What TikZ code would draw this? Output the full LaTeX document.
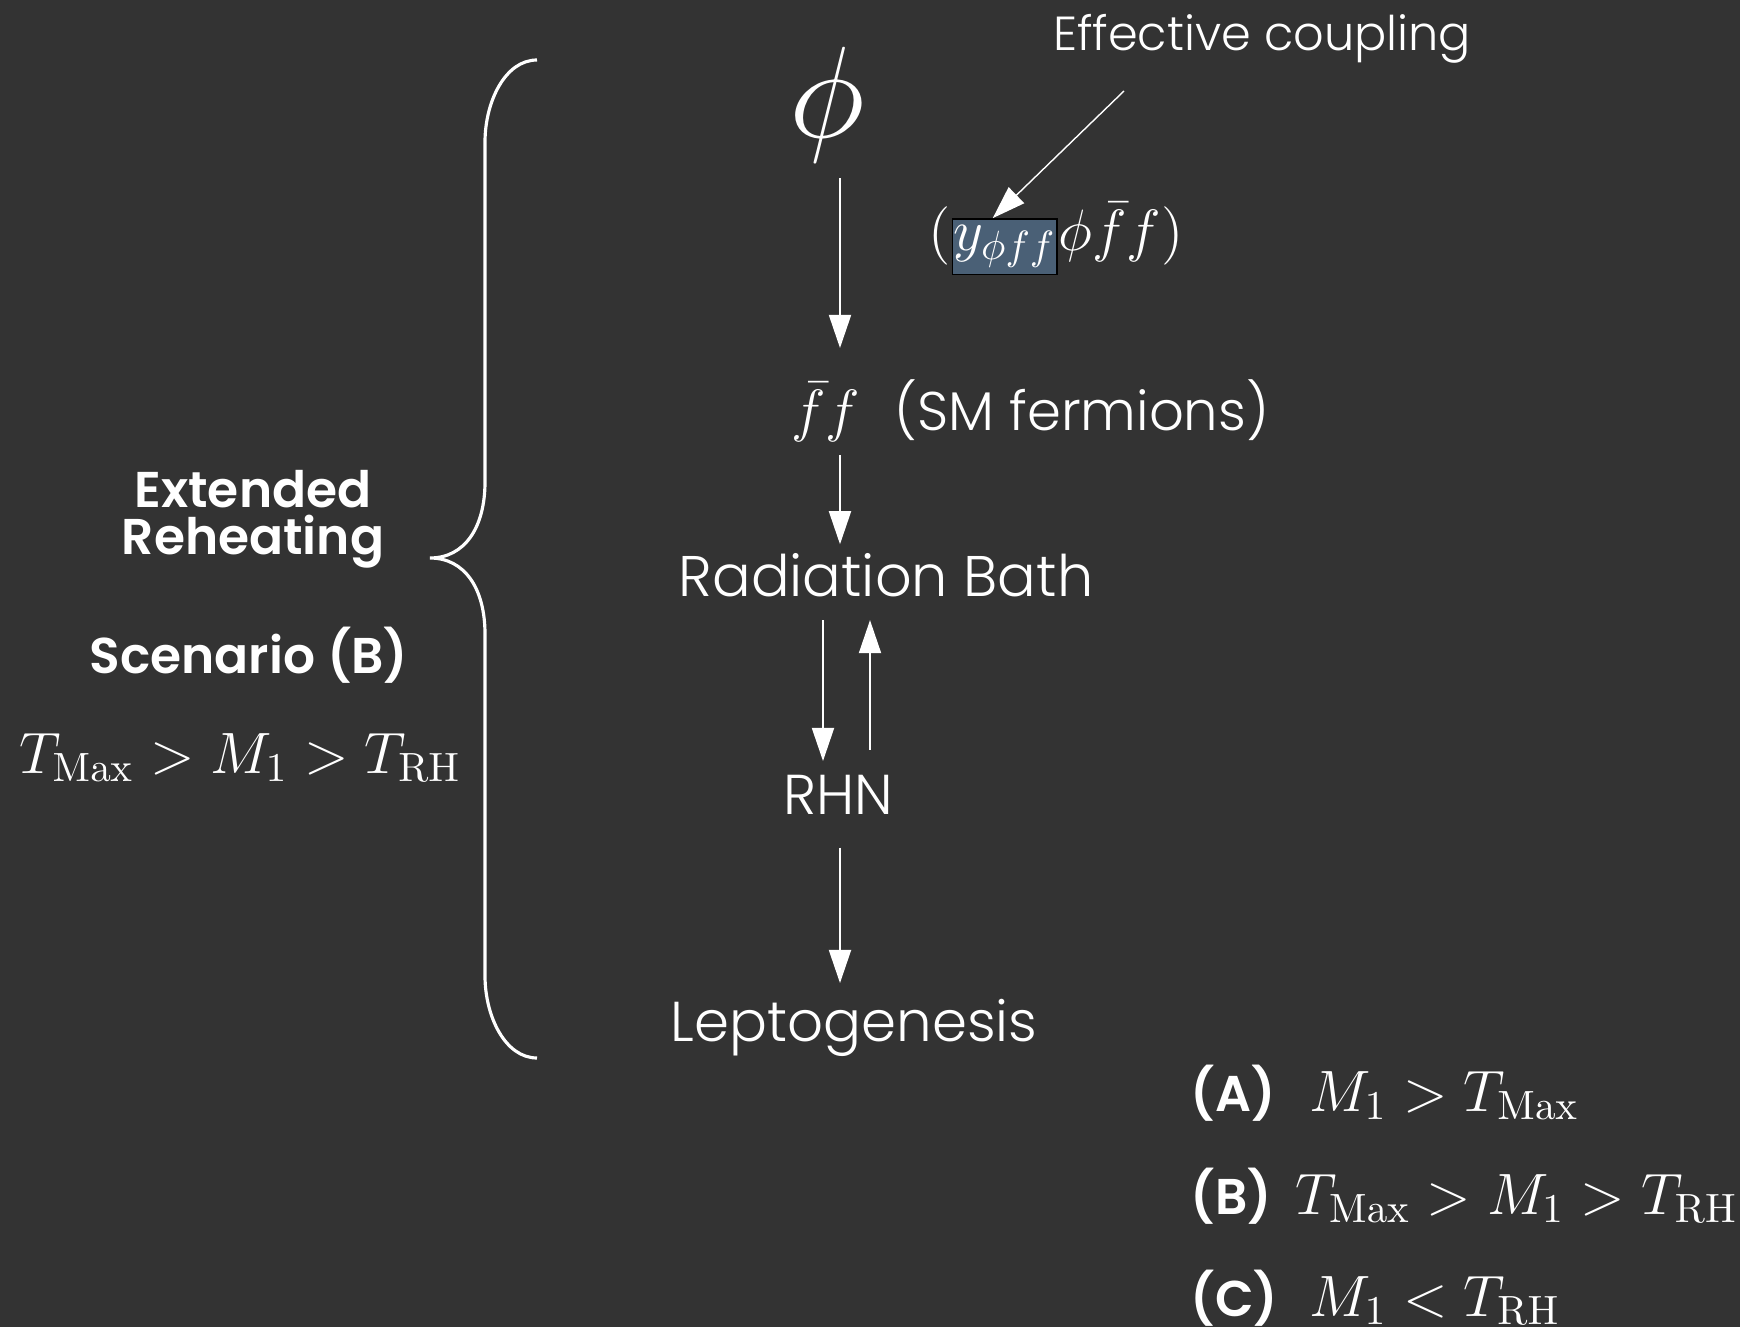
\RequirePackage{fix-cm}
\documentclass[tikz,border=0pt]{standalone}
\usepackage[no-math]{fontspec}
\setmainfont{Poppins Light}[BoldFont={Poppins SemiBold}]
\usetikzlibrary{positioning,arrows.meta}
\definecolor{bgGray}{HTML}{333333}
\definecolor{couplingBlue}{HTML}{4A6076}

\begin{document}
\begin{tikzpicture}[
  txt/.style={text=white, font=\fontsize{16}{19}\selectfont, inner sep=0pt},
  mth/.style={text=white, font=\fontsize{16.6}{19}\selectfont, inner sep=0pt},
  bld/.style={text=white, font=\fontsize{14.3}{13.4}\selectfont\bfseries, inner sep=0pt, align=center},
  arr/.style={white, line width=0.4pt, -{Triangle[width=6.3pt,length=9.4pt]}},
]
\fill[bgGray] (0,0) rectangle (17.40,13.27);
\useasboundingbox (0,0) rectangle (17.40,13.27);

% main chain
\coordinate (col) at (8.40,0);
\node[mth, font=\fontsize{37}{40}\selectfont] (phi) at (8.27,12.22) {$\phi$};
\node[mth, anchor=base] (ff) at (8.26,8.96) {$\bar f f$};
\node[txt, font=\fontsize{15.5}{18}\selectfont, anchor=base west] (sm) at (8.94,8.96) {(SM fermions)};
\node[txt, font=\fontsize{16.3}{19}\selectfont, anchor=base] (bath) at (8.86,7.30) {Radiation Bath};
\node[txt, anchor=base] (rhn) at (8.38,5.12) {RHN};
\node[txt, anchor=base] (lepto) at (8.54,2.86) {Leptogenesis};

% coupling
\node[mth, anchor=base west] (lpar) at (9.28,10.76) {$($};
\node[mth, base right=0pt of lpar, fill=couplingBlue, draw=black, line width=0.4pt, inner xsep=0.3pt, inner ysep=2pt] (yc) {$y_{\phi f f}$};
\node[mth, base right=0pt of yc] (rest) {$\phi\bar f f)$};
\node[txt, font=\fontsize{13.6}{16}\selectfont, anchor=base] (effc) at (12.62,12.76) {Effective coupling};
\coordinate (effend) at (11.24,12.36);
\draw[arr] (effend) -- ([xshift=-0.12cm]yc.north);

\draw[arr, shorten <=0.15cm, shorten >=0.34cm] (phi.south -| col) -- (ff.north -| col);
\draw[arr, shorten <=0.12cm, shorten >=0.09cm] (ff.south -| col) -- (bath.north -| col);
\draw[arr, shorten <=0.22cm, shorten >=0.14cm] (bath.south -| 8.23,0) -- (rhn.north -| 8.23,0);
\draw[arr, shorten <=0.25cm, shorten >=0.22cm] (rhn.north -| 8.70,0) -- (bath.south -| 8.70,0);
\draw[arr, shorten <=0.32cm, shorten >=0.15cm] (rhn.south -| col) -- (lepto.north -| col);

% brace
\draw[white, line width=0.9pt] (5.37,12.67) .. controls (5.05,12.67) and (4.85,12.25) .. (4.85,11.85)
  -- (4.85,8.45) .. controls (4.85,8.0) and (4.65,7.69) .. (4.30,7.69)
  .. controls (4.65,7.69) and (4.85,7.38) .. (4.85,6.93)
  -- (4.85,3.51) .. controls (4.85,3.11) and (5.05,2.69) .. (5.37,2.69);

% left labels
\node[bld, anchor=base] (ext) at (2.53,7.72) {Extended\\Reheating};
\node[bld, anchor=base] (scen) at (2.49,6.53) {Scenario (B)};
\node[mth, anchor=base] (condl) at (2.40,5.54) {$T_{\rm Max} > M_1 > T_{\rm RH}$};

% scenarios
\node[bld, anchor=base west] (sa) at (11.90,2.16) {(A)};
\node[mth, anchor=base west] (ca) at (13.09,2.16) {$M_1 > T_{\rm Max}$};
\node[bld, anchor=base west] (sb) at (11.90,1.13) {(B)};
\node[mth, anchor=base west] (cb) at (12.95,1.13) {$T_{\rm Max} > M_1 > T_{\rm RH}$};
\node[bld, anchor=base west] (sc) at (11.90,0.11) {(C)};
\node[mth, anchor=base west] (cc) at (13.09,0.11) {$M_1 < T_{\rm RH}$};
\end{tikzpicture}
\end{document}
